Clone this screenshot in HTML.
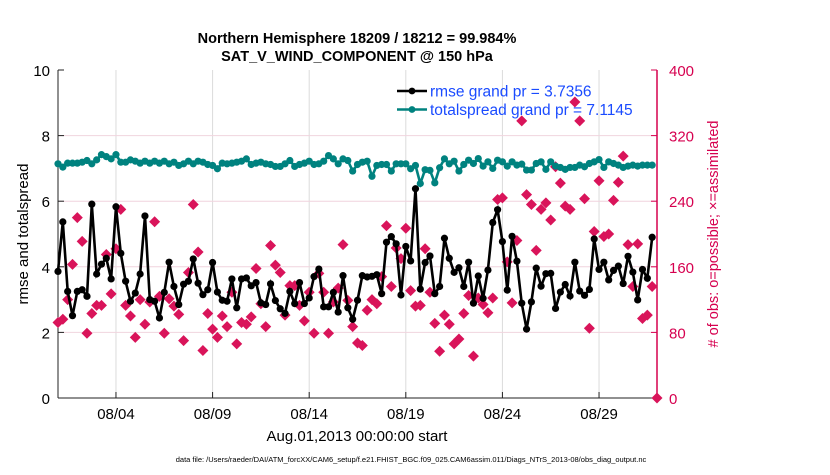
<!DOCTYPE html>
<html><head><meta charset="utf-8"><style>
body{margin:0;background:#fff;width:830px;height:470px;overflow:hidden;font-family:"Liberation Sans",sans-serif}
</style></head><body>
<svg id="chart" width="830" height="470" xmlns="http://www.w3.org/2000/svg" font-family="Liberation Sans, sans-serif">
<text x="357" y="43" text-anchor="middle" font-size="14.5" font-weight="bold">Northern Hemisphere 18209 / 18212 = 99.984%</text>
<text x="357" y="61" text-anchor="middle" font-size="14.5" font-weight="bold">SAT_V_WIND_COMPONENT @ 150 hPa</text>
<g id="grid"></g>
<g id="axes"></g>
<g id="marks"></g>
<text transform="translate(28,234) rotate(-90)" text-anchor="middle" font-size="15">rmse and totalspread</text>
<text transform="translate(718,234) rotate(-90)" text-anchor="middle" font-size="14.5" fill="#d6004f">#  of obs: o=possible; ×=assimilated</text>
<text x="357" y="441" text-anchor="middle" font-size="15">Aug.01,2013 00:00:00 start</text>
<text x="411" y="462" text-anchor="middle" font-size="7.5">data file: /Users/raeder/DAI/ATM_forcXX/CAM6_setup/f.e21.FHIST_BGC.f09_025.CAM6assim.011/Diags_NTrS_2013-08/obs_diag_output.nc</text>
<g id="legend"></g>
</svg>
<script>
const rmse=[3.86,5.37,3.25,2.51,3.25,3.3,3.1,5.91,3.78,4.08,4.26,3.63,5.83,4.41,3.56,2.95,3.2,3.78,5.55,3.0,2.95,2.44,3.22,4.14,3.4,2.85,3.47,3.56,4.24,3.5,3.15,3.3,4.13,3.23,2.98,2.95,3.63,2.75,3.63,3.66,3.42,3.52,2.9,
2.85,3.48,2.97,2.72,2.58,3.25,2.88,3.52,2.88,3.05,3.7,3.93,2.78,2.78,3.22,2.62,3.73,2.75,2.4,2.98,3.73,3.69,3.71,3.76,3.18,4.75,4.92,4.7,3.14,4.62,4.18,6.38,3.32,4.13,4.33,3.18,3.4,4.87,4.26,3.83,3.97,3.4,
4.14,2.89,3.72,3.04,3.9,5.35,5.74,4.77,3.29,4.93,4.17,2.89,2.1,2.93,3.96,3.41,3.79,3.8,2.73,3.23,3.46,3.11,4.14,3.26,3.13,3.31,4.85,3.92,4.14,3.6,3.89,4.02,3.49,4.32,3.84,2.99,3.92,3.65,4.9];
const spread=[7.14,7.04,7.16,7.16,7.16,7.19,7.24,7.14,7.26,7.42,7.36,7.29,7.42,7.19,7.19,7.26,7.22,7.16,7.22,7.16,7.22,7.16,7.22,7.14,7.19,7.09,7.14,7.22,7.14,7.22,7.19,7.12,7.09,6.99,7.16,7.14,7.16,7.19,7.22,7.29,7.12,7.16,7.19,
7.14,7.12,7.06,7.06,7.14,7.24,7.06,7.12,7.16,7.22,7.12,7.14,7.22,7.39,7.29,7.14,7.29,7.24,6.92,7.12,7.19,7.22,6.76,7.09,7.12,7.12,6.92,7.14,7.14,7.14,6.99,7.09,6.54,6.96,6.94,6.56,7.02,7.29,7.14,7.22,6.92,7.12,
7.25,7.15,7.30,7.07,7.20,7.0,7.25,7.20,7.07,7.20,7.10,7.13,6.95,6.95,7.15,7.20,6.97,7.20,7.07,7.03,6.97,7.03,7.03,7.10,7.05,7.15,7.20,7.27,7.03,7.20,7.15,7.10,7.03,7.07,7.10,7.07,7.10,7.10,7.10];
const obsCount=[92,96,120,163,220,191,79,103,113,113,175,127,182,230,113,100,74,120,90,117,215,124,79,121,112,102,70,153,236,178,58,103,84,74,100,87,129,66,92,90,99,158,115,
87,186,162,153,101,137,137,113,94,129,79,152,129,79,117,134,187,119,87,67,64,107,120,115,148,210,136,183,170,207,131,112,113,182,129,91,57,101,90,66,72,103,
125,51,122,114,104,122,242,244,166,116,192,338,248,236,180,230,238,217,282,262,234,230,361,338,243,85,203,265,197,200,241,263,295,187,136,188,97,101,136,0];
const xTickDays=[3,8,13,18,23,28];
const xTickLabels=["08/04","08/09","08/14","08/19","08/24","08/29"];
const leftTicks=[0,2,4,6,8,10];
const rightTicks=[0,80,160,240,320,400];
const legendLabels=["rmse grand pr = 3.7356","totalspread grand pr = 7.1145"];

const NS="http://www.w3.org/2000/svg";
const X0=58,X1=657,Y0=398,Y1=70;
const xs=d=>X0+(d/31)*(X1-X0);
const yl=v=>Y0-(v/10)*(Y0-Y1);
const yr=v=>Y0-(v/400)*(Y0-Y1);
function mk(parent,tag,attrs){const e=document.createElementNS(NS,tag);for(const k in attrs)e.setAttribute(k,attrs[k]);parent.appendChild(e);return e;}
const grid=document.getElementById('grid'),axes=document.getElementById('axes'),marks=document.getElementById('marks'),legend=document.getElementById('legend');
mk(grid,'rect',{x:X0,y:Y1,width:X1-X0,height:Y0-Y1,fill:'#fff'});
xTickDays.forEach((d,i)=>{
  const g=mk(grid,'line',{x1:xs(d),x2:xs(d),y1:Y1,y2:Y0,stroke:'#dcdcdc','stroke-width':1});
  
  
  const t=mk(axes,'line',{x1:xs(d),x2:xs(d),y1:Y0,y2:Y0-6,stroke:'#222'});
  
  
  const l=mk(axes,'text',{x:xs(d),y:Y0+21,'text-anchor':'middle','font-size':15});
  l.textContent=xTickLabels[i];
  
  
});
rightTicks.forEach(v=>{
  if(v>0&&v<400){const g=mk(grid,'line',{x1:X0,x2:X1,y1:yr(v),y2:yr(v),stroke:'#f0d4de','stroke-width':1});
  
  }
  const t=mk(axes,'line',{x1:X1,x2:X1-6,y1:yr(v),y2:yr(v),stroke:'#d6004f'});
  
  
  const l=mk(axes,'text',{x:X1+12,y:yr(v)+6,'font-size':15,fill:'#d6004f'});
  l.textContent=v;
  
  
});
leftTicks.forEach(v=>{
  const t=mk(axes,'line',{x1:X0,x2:X0+6,y1:yl(v),y2:yl(v),stroke:'#222'});
  
  
  const l=mk(axes,'text',{x:X0-8,y:yl(v)+6,'text-anchor':'end','font-size':15});
  l.textContent=v;
  
  
});
const la=mk(axes,'line',{x1:X0,x2:X0,y1:Y1,y2:Y0,stroke:'#222'});


const ba=mk(axes,'line',{x1:X0,x2:X1,y1:Y0,y2:Y0,stroke:'#222'});


const ra=mk(axes,'line',{x1:X1,x2:X1,y1:Y1,y2:Y0,stroke:'#d6004f','stroke-width':1.5});


obsCount.forEach((v,i)=>{
  const cx=xs(i*0.25),cy=yr(v),r=5.5;
  const p=mk(marks,'polygon',{points:`${cx},${cy-r} ${cx+r},${cy} ${cx},${cy+r} ${cx-r},${cy}`,fill:'#d9145a'});
  
  
});
function series(arr,yf,color,name){
  const pts=arr.map((v,i)=>`${xs(i*0.25).toFixed(1)},${yf(v).toFixed(1)}`).join(' ');
  const pl=mk(marks,'polyline',{points:pts,fill:'none',stroke:color,'stroke-width':2.6});
  
  
  arr.forEach((v,i)=>{
    const c=mk(marks,'circle',{cx:xs(i*0.25),cy:yf(v),r:3.6,fill:color});
    
    
  });
}
series(spread,yl,'#00827f','totalspread');
series(rmse,yl,'#000','rmse');
const lc=['#000','#00827f'];
legendLabels.forEach((s,i)=>{
  const y=91+i*18.5;
  const ln=mk(legend,'line',{x1:397,x2:427,y1:y,y2:y,stroke:lc[i],'stroke-width':2.4});
  
  
  const c=mk(legend,'circle',{cx:412,cy:y,r:3.4,fill:lc[i]});
  
  
  const t=mk(legend,'text',{x:430,y:y+5.5,'font-size':15.5,fill:'#1a4bff'});
  t.textContent=s;
  
  
});
</script>
</body></html>
